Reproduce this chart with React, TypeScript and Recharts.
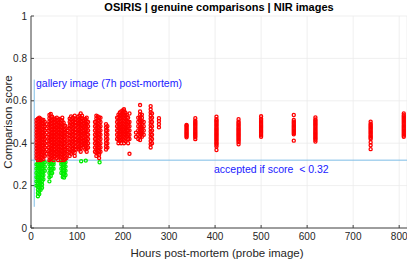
import React from "react";
import {
  ScatterChart,
  Scatter,
  XAxis,
  YAxis,
  CartesianGrid,
  ReferenceLine,
} from "recharts";

type Col = [number, number[]];

const X_TICKS = [0, 100, 200, 300, 400, 500, 600, 700, 800];
const Y_TICKS = [0, 0.2, 0.4, 0.6, 0.8, 1];

const GALLERY_HOURS = 7;
const THRESHOLD = 0.32;

// rejected comparisons, first ~35 hours
const redEarly: Col[] = [
  [12, [0.33, 0.345, 0.36, 0.375, 0.39, 0.405, 0.42, 0.435, 0.45, 0.465, 0.48, 0.495, 0.51]],
  [15, [0.32, 0.335, 0.35, 0.365, 0.38, 0.395, 0.41, 0.425, 0.44, 0.455, 0.47, 0.485, 0.5, 0.515]],
  [18, [0.325, 0.34, 0.355, 0.37, 0.385, 0.4, 0.415, 0.43, 0.445, 0.46, 0.475, 0.49, 0.505, 0.52]],
  [21, [0.32, 0.335, 0.35, 0.368, 0.383, 0.398, 0.412, 0.428, 0.442, 0.458, 0.472, 0.488, 0.502, 0.516]],
  [24, [0.33, 0.345, 0.36, 0.376, 0.39, 0.405, 0.42, 0.436, 0.45, 0.466, 0.48, 0.495, 0.508]],
  [27, [0.325, 0.34, 0.357, 0.372, 0.388, 0.403, 0.418, 0.433, 0.448, 0.463, 0.478, 0.494, 0.51]],
  [30, [0.34, 0.36, 0.38, 0.4, 0.42, 0.44, 0.46, 0.48, 0.5]],
  [34, [0.35, 0.37, 0.39, 0.41, 0.43, 0.45, 0.47, 0.49]],
];

// rejected comparisons, 40 - 170 hours
const redMid: Col[] = [
  [40, [0.32, 0.335, 0.35, 0.366, 0.381, 0.396, 0.412, 0.427, 0.442, 0.458, 0.473, 0.488, 0.503, 0.518, 0.533]],
  [43, [0.325, 0.34, 0.356, 0.371, 0.386, 0.402, 0.417, 0.432, 0.447, 0.463, 0.478, 0.493, 0.508, 0.524, 0.538]],
  [46, [0.33, 0.345, 0.36, 0.375, 0.39, 0.405, 0.42, 0.435, 0.45, 0.465, 0.48, 0.495, 0.51, 0.525]],
  [49, [0.32, 0.336, 0.352, 0.368, 0.384, 0.4, 0.416, 0.432, 0.448, 0.464, 0.48, 0.496, 0.512]],
  [52, [0.34, 0.356, 0.372, 0.388, 0.404, 0.42, 0.436, 0.452, 0.468, 0.484, 0.5, 0.516]],
  [56, [0.33, 0.345, 0.36, 0.376, 0.392, 0.408, 0.424, 0.44, 0.456, 0.472, 0.488, 0.504, 0.52]],
  [59, [0.32, 0.336, 0.352, 0.368, 0.384, 0.4, 0.416, 0.432, 0.448, 0.464, 0.48, 0.496, 0.51]],
  [62, [0.34, 0.355, 0.37, 0.386, 0.402, 0.418, 0.434, 0.45, 0.466, 0.482, 0.498, 0.514]],
  [65, [0.32, 0.335, 0.35, 0.366, 0.382, 0.398, 0.414, 0.43, 0.446, 0.462, 0.478, 0.494, 0.51]],
  [68, [0.33, 0.346, 0.362, 0.378, 0.394, 0.41, 0.426, 0.442, 0.458, 0.474, 0.49, 0.506, 0.52]],
  [71, [0.32, 0.336, 0.352, 0.368, 0.384, 0.4, 0.416, 0.432, 0.448, 0.464, 0.48, 0.496]],
  [74, [0.325, 0.34, 0.355, 0.37, 0.386, 0.402, 0.418, 0.434, 0.45, 0.466, 0.482]],
  [77, [0.33, 0.35, 0.37, 0.39, 0.41, 0.43, 0.45, 0.47]],
  [84, [0.34, 0.356, 0.372, 0.388, 0.404, 0.42, 0.436, 0.452, 0.468, 0.484, 0.5, 0.516]],
  [87, [0.35, 0.366, 0.382, 0.398, 0.414, 0.43, 0.446, 0.462, 0.478, 0.494, 0.51, 0.526]],
  [91, [0.36, 0.376, 0.392, 0.408, 0.424, 0.44, 0.456, 0.472, 0.488, 0.504, 0.52]],
  [95, [0.34, 0.355, 0.37, 0.386, 0.402, 0.418, 0.434, 0.45, 0.466, 0.482, 0.498, 0.514, 0.53]],
  [98, [0.37, 0.386, 0.402, 0.418, 0.434, 0.45, 0.466, 0.482, 0.498, 0.514]],
  [102, [0.38, 0.396, 0.412, 0.428, 0.444, 0.46, 0.476, 0.492, 0.508, 0.524]],
  [105, [0.37, 0.386, 0.402, 0.418, 0.434, 0.45, 0.466, 0.482, 0.498, 0.514, 0.53]],
  [108, [0.36, 0.376, 0.392, 0.408, 0.424, 0.44, 0.456, 0.472, 0.488, 0.504, 0.52, 0.54]],
  [111, [0.39, 0.405, 0.42, 0.436, 0.452, 0.468, 0.484, 0.5, 0.516, 0.53]],
  [114, [0.38, 0.396, 0.412, 0.428, 0.444, 0.46, 0.476, 0.492, 0.508]],
  [118, [0.37, 0.386, 0.402, 0.418, 0.434, 0.45, 0.466, 0.482, 0.498, 0.514]],
  [121, [0.36, 0.376, 0.392, 0.408, 0.424, 0.44, 0.456, 0.472, 0.488, 0.504, 0.52]],
  [124, [0.38, 0.4, 0.42, 0.44, 0.46, 0.48, 0.5]],
  [139, [0.36, 0.38, 0.4, 0.42, 0.44, 0.46, 0.48, 0.5]],
  [142, [0.34, 0.356, 0.372, 0.388, 0.404, 0.42, 0.436, 0.452, 0.468, 0.484, 0.5, 0.516, 0.53]],
  [145, [0.35, 0.366, 0.382, 0.398, 0.414, 0.43, 0.446, 0.462, 0.478, 0.494, 0.51, 0.526]],
  [148, [0.33, 0.346, 0.362, 0.378, 0.394, 0.41, 0.426, 0.442, 0.458, 0.474, 0.49, 0.506, 0.522]],
  [151, [0.36, 0.38, 0.4, 0.42, 0.44, 0.46, 0.48, 0.5, 0.52]],
  [163, [0.37, 0.385, 0.4, 0.415, 0.43, 0.445, 0.46, 0.475, 0.49]],
  [166, [0.38, 0.4, 0.42, 0.44, 0.46, 0.48]],
];

// rejected comparisons, 185 - 280 hours
const redLate: Col[] = [
  [187, [0.42, 0.44, 0.46, 0.48, 0.5, 0.52]],
  [190, [0.4, 0.415, 0.43, 0.445, 0.46, 0.475, 0.49, 0.505, 0.52, 0.535]],
  [193, [0.41, 0.425, 0.44, 0.455, 0.47, 0.485, 0.5, 0.515, 0.53, 0.545]],
  [196, [0.4, 0.415, 0.43, 0.445, 0.46, 0.475, 0.49, 0.505, 0.52, 0.535, 0.55]],
  [199, [0.42, 0.435, 0.45, 0.465, 0.48, 0.495, 0.51, 0.525, 0.54, 0.555]],
  [202, [0.4, 0.415, 0.43, 0.445, 0.46, 0.475, 0.49, 0.505, 0.52, 0.535, 0.55, 0.56]],
  [205, [0.41, 0.425, 0.44, 0.455, 0.47, 0.485, 0.5, 0.515, 0.53, 0.545]],
  [208, [0.43, 0.445, 0.46, 0.475, 0.49, 0.505, 0.52, 0.535]],
  [211, [0.4, 0.42, 0.44, 0.46, 0.48, 0.5, 0.52]],
  [214, [0.35, 0.42, 0.44, 0.46, 0.48, 0.5, 0.54]],
  [228, [0.43, 0.45]],
  [233, [0.42, 0.44, 0.46, 0.48, 0.5, 0.52]],
  [237, [0.415, 0.43, 0.445, 0.46, 0.475, 0.49, 0.505, 0.52, 0.535, 0.55, 0.58]],
  [241, [0.43, 0.445, 0.46, 0.475, 0.49, 0.505, 0.52, 0.535]],
  [245, [0.44, 0.46, 0.48, 0.5]],
  [260, [0.38, 0.395, 0.41, 0.425, 0.44, 0.455, 0.47, 0.485, 0.5, 0.515, 0.53, 0.545, 0.56, 0.575]],
  [263, [0.4, 0.42, 0.44, 0.46, 0.48, 0.5, 0.52, 0.54]],
  [278, [0.475, 0.49, 0.505, 0.518]],
];

// single probe sessions after ~2 weeks
const redSparse: Col[] = [
  [338, [0.428, 0.434, 0.44, 0.446, 0.452, 0.458, 0.464, 0.47, 0.476, 0.482, 0.486]],
  [357, [0.419, 0.428, 0.434, 0.44, 0.446, 0.452, 0.458, 0.464, 0.47, 0.476, 0.482, 0.488, 0.494, 0.5, 0.506, 0.518]],
  [403, [0.368, 0.385, 0.393, 0.399, 0.405, 0.411, 0.417, 0.423, 0.429, 0.435, 0.441, 0.447, 0.453, 0.459, 0.465, 0.471, 0.477, 0.483, 0.489, 0.495, 0.501, 0.507, 0.513, 0.525]],
  [451, [0.395, 0.405, 0.411, 0.417, 0.423, 0.429, 0.435, 0.441, 0.447, 0.453, 0.459, 0.465, 0.471, 0.477, 0.483, 0.489, 0.495, 0.501, 0.513]],
  [500, [0.43, 0.437, 0.443, 0.449, 0.455, 0.461, 0.467, 0.473, 0.479, 0.485, 0.491, 0.497, 0.503, 0.509, 0.515, 0.527]],
  [571, [0.412, 0.442, 0.448, 0.454, 0.46, 0.466, 0.472, 0.478, 0.484, 0.49, 0.496, 0.502, 0.51, 0.533]],
  [618, [0.408, 0.416, 0.422, 0.428, 0.434, 0.44, 0.446, 0.452, 0.458, 0.464, 0.47, 0.476, 0.482, 0.488, 0.494, 0.5, 0.506, 0.512, 0.522]],
  [738, [0.372, 0.39, 0.405, 0.42, 0.426, 0.432, 0.438, 0.444, 0.45, 0.456, 0.462, 0.468, 0.474, 0.48, 0.486, 0.492, 0.502]],
  [810, [0.43, 0.436, 0.442, 0.448, 0.454, 0.46, 0.466, 0.472, 0.478, 0.484, 0.49, 0.496, 0.502, 0.508, 0.514, 0.52, 0.526, 0.532, 0.54]],
];

// accepted comparisons (score below threshold)
const greenCols: Col[] = [
  [12, [0.2, 0.22, 0.24, 0.26, 0.28, 0.3]],
  [15, [0.15, 0.165, 0.18, 0.195, 0.21, 0.225, 0.24, 0.255, 0.27, 0.285, 0.3, 0.31]],
  [18, [0.16, 0.175, 0.19, 0.205, 0.22, 0.235, 0.25, 0.265, 0.28, 0.295, 0.31]],
  [21, [0.18, 0.195, 0.21, 0.225, 0.24, 0.255, 0.27, 0.285, 0.3, 0.31]],
  [24, [0.19, 0.205, 0.22, 0.235, 0.25, 0.265, 0.28, 0.295, 0.31]],
  [27, [0.23, 0.25, 0.27, 0.29, 0.31]],
  [30, [0.27, 0.29, 0.31]],
  [40, [0.22, 0.24, 0.26, 0.28, 0.3, 0.31]],
  [43, [0.245, 0.26, 0.275, 0.29, 0.305]],
  [46, [0.26, 0.28, 0.3]],
  [49, [0.28, 0.3, 0.31]],
  [66, [0.26, 0.28, 0.3, 0.31]],
  [69, [0.24, 0.255, 0.27, 0.285, 0.3, 0.31]],
  [72, [0.238, 0.255, 0.27, 0.285, 0.3, 0.31]],
  [75, [0.25, 0.27, 0.29, 0.31]],
  [109, [0.315]],
  [119, [0.318]],
  [149, [0.31]],
];

const toPoints = (cols: Col[]) =>
  cols.flatMap(([h, scores]) => scores.map((s) => ({ h, s })));

const redPoints = toPoints([...redEarly, ...redMid, ...redLate, ...redSparse]);
const greenPoints = toPoints(greenCols);

const FONT = '"Liberation Sans", Arial, Helvetica, sans-serif';

const ring = (color: string) => (props: any) =>
  (
    <circle
      cx={props.cx}
      cy={props.cy}
      r={1.55}
      fill="none"
      stroke={color}
      strokeWidth={1.3}
    />
  );

const fmtY = (v: number) => (v === 0 || v === 1 ? String(v) : v.toFixed(1));

export default function App() {
  return (
    <div
      style={{
        position: "absolute",
        left: 0,
        top: 0,
        width: 407,
        height: 259,
        background: "#fff",
        fontFamily: FONT,
      }}
    >
      <ScatterChart
        width={407}
        height={259}
        margin={{ top: 16, right: 0, bottom: 0, left: 0 }}
      >
        <CartesianGrid stroke="#ebebeb" strokeWidth={0.8} />
        <XAxis
          type="number"
          dataKey="h"
          domain={[0, 817]}
          ticks={X_TICKS}
          height={31}
          tickSize={-3}
          tickMargin={8}
          stroke="#444"
          tick={{ fill: "#262626", fontSize: 10, fontFamily: FONT }}
          allowDataOverflow
        />
        <YAxis
          type="number"
          dataKey="s"
          domain={[0, 1]}
          ticks={Y_TICKS}
          width={31}
          tickSize={-3}
          tickMargin={7}
          tickFormatter={fmtY}
          stroke="#444"
          tick={{ fill: "#262626", fontSize: 10, fontFamily: FONT }}
        />
        <ReferenceLine y={THRESHOLD} stroke="#7dbde6" strokeWidth={1} />
        <ReferenceLine
          segment={[
            { x: GALLERY_HOURS, y: 0.1 },
            { x: GALLERY_HOURS, y: 0.7 },
          ]}
          stroke="#7dbde6"
          strokeWidth={1}
        />
        <Scatter
          data={greenPoints}
          shape={ring("#00ee00")}
          isAnimationActive={false}
        />
        <Scatter
          data={redPoints}
          shape={ring("#ff0000")}
          isAnimationActive={false}
        />
      </ScatterChart>

      <div
        style={{
          position: "absolute",
          left: 219,
          top: 7,
          transform: "translate(-50%, -50%)",
          fontSize: 11,
          fontWeight: "bold",
          color: "#000",
          whiteSpace: "nowrap",
        }}
      >
        OSIRIS | genuine comparisons | NIR images
      </div>
      <div
        style={{
          position: "absolute",
          left: 217,
          top: 252.5,
          transform: "translate(-50%, -50%)",
          fontSize: 11.5,
          color: "#262626",
          whiteSpace: "nowrap",
        }}
      >
        Hours post-mortem (probe image)
      </div>
      <div
        style={{
          position: "absolute",
          left: 8,
          top: 122,
          transform: "translate(-50%, -50%) rotate(-90deg)",
          fontSize: 11.5,
          color: "#262626",
          whiteSpace: "nowrap",
        }}
      >
        Comparison score
      </div>
      <div
        style={{
          position: "absolute",
          left: 36,
          top: 83,
          transform: "translateY(-50%)",
          fontSize: 10.5,
          color: "#1a1aff",
          whiteSpace: "nowrap",
        }}
      >
        gallery image (7h post-mortem)
      </div>
      <div
        style={{
          position: "absolute",
          left: 214,
          top: 169,
          transform: "translateY(-50%)",
          fontSize: 10.5,
          color: "#1a1aff",
          whiteSpace: "pre",
        }}
      >
        {"accepted if score  < 0.32"}
      </div>
    </div>
  );
}
